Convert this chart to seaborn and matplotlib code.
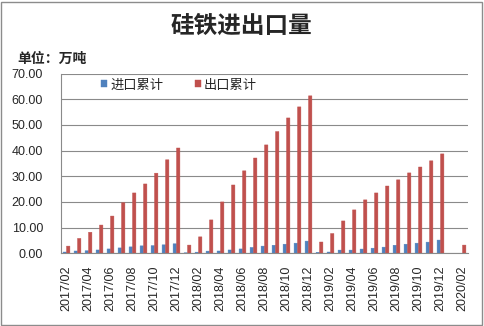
import numpy as np
import pandas as pd
import matplotlib
matplotlib.use("Agg")
import matplotlib.pyplot as plt
from matplotlib.patches import Rectangle
import seaborn as sns

# Monthly cumulative ferrosilicon trade, 10k tonnes
months = (
    [f"2017/{m:02d}" for m in range(2, 13)]
    + [f"2018/{m:02d}" for m in range(1, 13)]
    + [f"2019/{m:02d}" for m in range(1, 13)]
    + ["2020/01", "2020/02"]
)
imports = [
    0.5, 0.9, 1.0, 1.3, 1.7, 2.1, 2.5, 2.9, 3.0, 3.3, 3.7,
    0.2, 0.45, 0.85, 0.9, 1.3, 1.7, 2.3, 2.8, 3.15, 3.55, 3.95, 4.75,
    0.4, 0.5, 1.25, 1.25, 1.65, 2.0, 2.4, 3.15, 3.55, 3.95, 4.35, 5.15,
    np.nan, 0.0,
]
exports = [
    2.8, 5.8, 8.2, 11.0, 14.5, 19.7, 23.5, 27.0, 31.2, 36.4, 41.0,
    3.2, 6.4, 13.0, 20.0, 26.6, 32.1, 37.1, 42.2, 47.4, 52.7, 57.0, 61.3,
    4.4, 7.7, 12.6, 16.9, 20.8, 23.5, 26.2, 28.6, 31.3, 33.6, 36.0, 38.7,
    np.nan, 3.2,
]
series_names = ["进口累计", "出口累计"]
colors = ["#4F81BD", "#C0504D"]

df = pd.DataFrame({
    "month": months * 2,
    "value": imports + exports,
    "series": [series_names[0]] * len(months) + [series_names[1]] * len(months),
})

sns.set_style("white")
plt.rcParams["font.family"] = ["Liberation Sans", "Noto Sans CJK SC", "DejaVu Sans"]

W, H = 484, 326
fig = plt.figure(figsize=(W / 100, H / 100), dpi=100)
fig.patch.set_facecolor("white")
fig.patches.append(Rectangle((1 / W, 1 / H), (W - 3) / W, (H - 3) / H,
                             transform=fig.transFigure, fill=False,
                             edgecolor="#8c8c8c", linewidth=1.0))

left, right, top, bottom = 61, 468, 73.5, 253.3
ax = fig.add_axes([left / W, (H - bottom) / H, (right - left) / W, (bottom - top) / H])

sns.barplot(data=df, x="month", y="value", hue="series", order=months,
            hue_order=series_names, palette=colors, width=0.62, saturation=1,
            ax=ax, errorbar=None, linewidth=0)

for patch in ax.patches:
    patch.set_edgecolor(patch.get_facecolor())
    patch.set_linewidth(0.3)
    patch.set_snap(False)

ax.set_xlim(-0.5, len(months) - 0.5)
ax.set_ylim(0, 70)
ax.set_yticks(np.arange(0, 71, 10))
ax.set_yticklabels([f"{v:.2f}" for v in np.arange(0, 71, 10)], fontsize=9)
ax.yaxis.grid(True, color="#8a8a8a", linewidth=0.8)
ax.set_axisbelow(True)

ax.set_xticks(range(0, len(months), 2))
ax.set_xticklabels(months[::2], rotation=90, fontsize=9)
ax.set_xticks(np.arange(-0.5, len(months), 2), minor=True)
ax.tick_params(axis="x", which="major", length=0, pad=9)
ax.tick_params(axis="x", which="minor", length=4, color="#8a8a8a", width=0.8)
ax.tick_params(axis="y", which="major", length=4, color="#8a8a8a", width=0.8, pad=9)
ax.set_xlabel("")
ax.set_ylabel("")

for s in ["top", "right"]:
    ax.spines[s].set_visible(False)
for s in ["left", "bottom"]:
    ax.spines[s].set_color("#8a8a8a")
    ax.spines[s].set_linewidth(0.8)

handles, labels = ax.get_legend_handles_labels()
ax.legend(handles, labels, ncol=2, frameon=False, loc="center left",
          bbox_to_anchor=(0.085, 0.936), handlelength=0.45, handleheight=0.45,
          handletextpad=0.25, columnspacing=2.4, borderaxespad=0,
          prop={"family": ["Noto Sans CJK SC"], "size": 9.5})

fig.text(241.5 / W, 1 - 26 / H, "硅铁进出口量", ha="center", va="center",
         fontsize=17, family=["Noto Sans CJK SC"], fontweight="bold")
fig.text(17 / W, 1 - 58.5 / H, "单位：万吨", ha="left", va="center",
         fontsize=10, family=["Noto Sans CJK SC"], fontweight="bold")

fig.savefig("out.png", dpi=100, facecolor="white")
